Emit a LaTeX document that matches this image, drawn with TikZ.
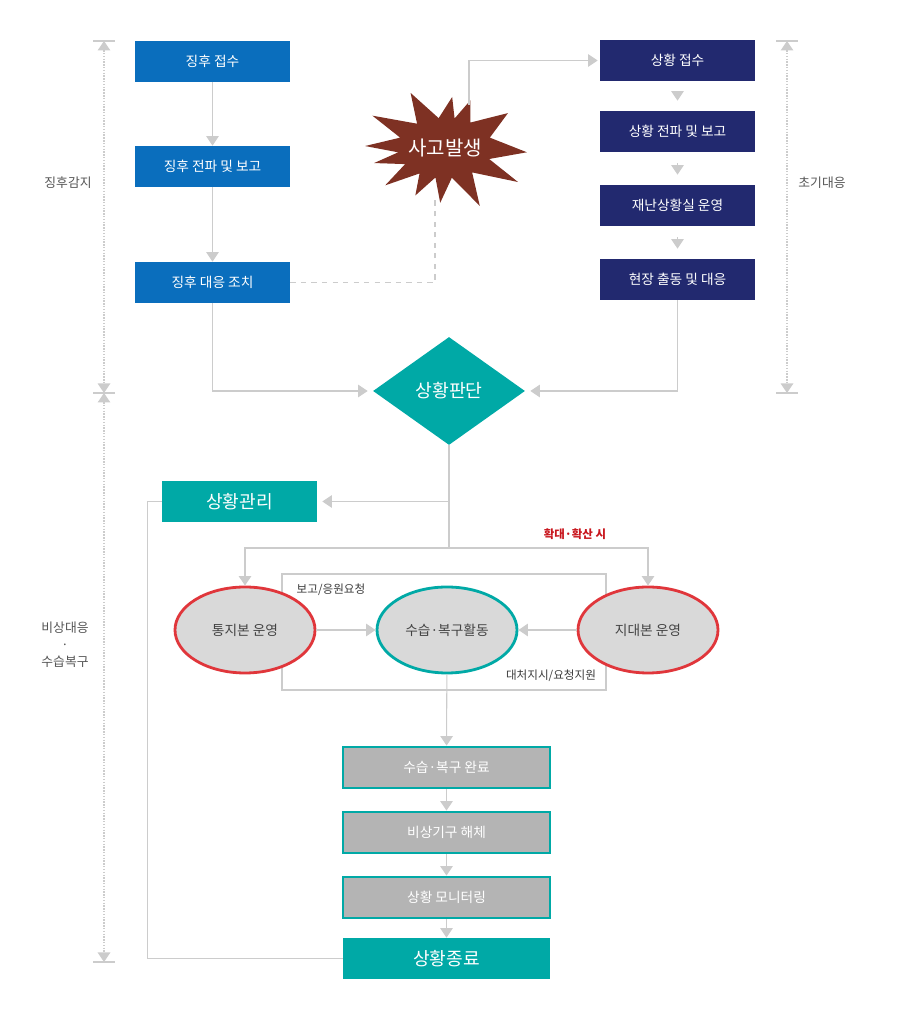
\documentclass[tikz,border=0pt]{standalone}
\usepackage{fontspec}
\setmainfont{Noto Sans CJK KR}
\usepackage{xcolor}
\definecolor{dmBlue}{HTML}{0A6EBD}
\definecolor{dmNavy}{HTML}{22296F}
\definecolor{dmTeal}{HTML}{00A9A6}
\definecolor{dmBrown}{HTML}{7E3123}
\definecolor{dmLine}{HTML}{CCCCCC}
\definecolor{dmGrayFill}{HTML}{D9D9D9}
\definecolor{dmGrayBox}{HTML}{B4B4B4}
\definecolor{dmRed}{HTML}{E0363B}
\definecolor{dmRedText}{HTML}{C8161D}
\definecolor{dmText}{HTML}{555555}
\usetikzlibrary{arrows.meta,calc,positioning,shapes.geometric}

\begin{document}
\begin{tikzpicture}[>={Triangle[width=0.25cm,length=0.19cm]},font=\fontsize{7.8}{9}\selectfont]
  \tikzset{
    stepbox/.style={
      minimum width=3.1cm,
      minimum height=0.82cm,
      inner sep=0pt,
      text=white
    },
    signbox/.style={stepbox,fill=dmBlue},
    sitbox/.style={stepbox,fill=dmNavy},
    keybox/.style={stepbox,fill=dmTeal,font=\fontsize{10.3}{12}\selectfont},
    recbox/.style={stepbox,minimum width=4.14cm,fill=dmGrayBox,draw=dmTeal,line width=1.6pt},
    opsell/.style={
      ellipse,
      minimum width=2.8cm,
      minimum height=1.72cm,
      fill=dmGrayFill,
      line width=1.6pt,
      text=dmText!80!black
    },
    flowline/.style={->,dmLine,line width=0.6pt},
    rangeline/.style={<->,dmLine,line width=0.8pt,dash pattern=on 0.8pt off 0.8pt},
    sidelabel/.style={text=dmText,font=\fontsize{7.3}{9.6}\selectfont,align=center},
    noteline/.style={text=dmText!70!black,font=\fontsize{6.6}{7.8}\selectfont}
  }
  \path[use as bounding box] (0,0) rectangle (18.22,20.30);

  % side ranges
  \coordinate (detTop) at (2.08,19.48);
  \coordinate (detBot) at (2.08,12.44);
  \coordinate (emgBot) at (2.08,1.06);
  \coordinate (iniTop) at (15.74,19.48);
  \coordinate (iniBot) at (15.74,12.44);
  \draw[rangeline] (detTop) -- (detBot);
  \draw[rangeline] (detBot) -- (emgBot);
  \draw[rangeline] (iniTop) -- (iniBot);
  \draw[dmLine,line width=0.6pt] ($(detTop)+(-0.22,0)$) -- ($(detTop)+(0.22,0)$);
  \draw[dmLine,line width=0.6pt] ($(detBot)+(-0.22,0)$) -- ($(detBot)+(0.22,0)$);
  \draw[dmLine,line width=0.6pt] ($(emgBot)+(-0.22,0)$) -- ($(emgBot)+(0.22,0)$);
  \draw[dmLine,line width=0.6pt] ($(iniTop)+(-0.22,0)$) -- ($(iniTop)+(0.22,0)$);
  \draw[dmLine,line width=0.6pt] ($(iniBot)+(-0.22,0)$) -- ($(iniBot)+(0.22,0)$);
  \node[sidelabel] (detLbl) at (1.36,16.64) {징후감지};
  \node[sidelabel] (iniLbl) at (16.44,16.64) {초기대응};
  \node[sidelabel] (emgLbl) at (1.30,7.40) {비상대응\\·\\수습복구};

  % sign column
  \node[signbox] (sig1) at (4.25,19.07) {징후 접수};
  \node[signbox] (sig2) at (4.25,16.97) {징후 전파 및 보고};
  \node[signbox] (sig3) at (4.25,14.65) {징후 대응 조치};
  \draw[flowline] (sig1) -- (sig2);
  \draw[flowline] (sig2) -- (sig3);

  % situation column
  \node[sitbox] (sit1) at (13.55,19.09) {상황 접수};
  \node[sitbox] (sit2) at (13.55,17.67) {상황 전파 및 보고};
  \node[sitbox] (sit3) at (13.55,16.19) {재난상황실 운영};
  \node[sitbox] (sit4) at (13.55,14.71) {현장 출동 및 대응};
  \draw[flowline,shorten <=0.215cm,shorten >=0.2cm] (sit1) -- (sit2);
  \draw[flowline,shorten <=0.215cm,shorten >=0.2cm] (sit2) -- (sit3);
  \draw[flowline,shorten <=0.215cm,shorten >=0.2cm] (sit3) -- (sit4);

  % accident burst
  \fill[dmBrown,shift={(8.90,17.34)}] (178.6:1.60) -- (167:0.92) -- (156:1.59) -- (139:0.74) -- (122:1.30)
    -- (102:0.61) -- (82:1.03) -- (72:0.62) -- (62:1.08) -- (45:0.72) -- (29:1.44) -- (13:0.92)
    -- (-3:1.64) -- (-14:0.91) -- (-25:1.61) -- (-42:0.73) -- (-59:1.35) -- (-77:0.61) -- (-95:1.10)
    -- (-108:0.62) -- (-122:1.12) -- (-135:0.72) -- (-148:1.41) -- (-158:0.86) -- (-168:1.45)
    -- (-174.7:0.94) -- cycle;
  \node[text=white,font=\fontsize{11.4}{13}\selectfont] (acc) at (8.90,17.34) {사고발생};
  \coordinate (accTop) at (9.38,18.20);
  \coordinate (accBot) at (8.70,16.30);
  \draw[flowline,shorten >=0.04cm] (accTop) |- (sit1.west);
  \draw[dmLine,line width=0.6pt,dashed] (sig3.east) -| (accBot);

  % judgement
  \node[diamond,fill=dmTeal,minimum width=3.04cm,minimum height=2.16cm,inner sep=0pt,text=white,font=\fontsize{10.4}{12}\selectfont] (judge) at (8.98,12.48) {상황판단};
  \draw[flowline,shorten >=0.1cm] (sig3.south) |- (judge.west);
  \draw[flowline,shorten >=0.1cm] (sit4.south) |- (judge.east);

  \node[keybox] (mgmt) at (4.79,10.27) {상황관리};
  \coordinate (split) at (8.98,9.34);
  \draw[dmLine,line width=0.6pt] (judge.south) -- (split);
  \draw[flowline,shorten >=0.1cm] (judge.south |- mgmt.east) -- (mgmt.east);
  \node[text=dmRedText,font=\fontsize{6.5}{7.5}\selectfont\bfseries] (spreadLbl) at (11.50,9.62) {확대·확산 시};

  % operations
  \draw[dmLine,line width=0.6pt] (5.64,6.50) rectangle (12.12,8.82);
  \node[opsell,draw=dmRed] (hqA) at (4.90,7.70) {통지본 운영};
  \node[opsell,draw=dmTeal] (rec) at (8.94,7.70) {수습·복구활동};
  \node[opsell,draw=dmRed] (hqB) at (12.96,7.70) {지대본 운영};
  \node[noteline] (askLbl) at (6.62,8.50) {보고/응원요청};
  \node[noteline] (cmdLbl) at (11.02,6.78) {대처지시/요청지원};
  \draw[flowline] (split) -| (hqA.north);
  \draw[flowline] (split) -| (hqB.north);
  \draw[flowline] (hqA) -- (rec);
  \draw[flowline] (hqB) -- (rec);

  % recovery steps
  \node[recbox] (done) at (8.93,4.95) {수습·복구 완료};
  \node[recbox] (dissolve) at (8.93,3.65) {비상기구 해체};
  \node[recbox] (monitor) at (8.93,2.35) {상황 모니터링};
  \node[keybox,minimum width=4.14cm] (finish) at (8.93,1.13) {상황종료};
  \draw[flowline] (rec) -- (done);
  \draw[flowline] (done) -- (dissolve);
  \draw[flowline] (dissolve) -- (monitor);
  \draw[flowline] (monitor) -- (finish);
  \draw[dmLine,line width=0.6pt] (mgmt.west) -- ++(-0.28,0) |- (finish.west);
\end{tikzpicture}
\end{document}
